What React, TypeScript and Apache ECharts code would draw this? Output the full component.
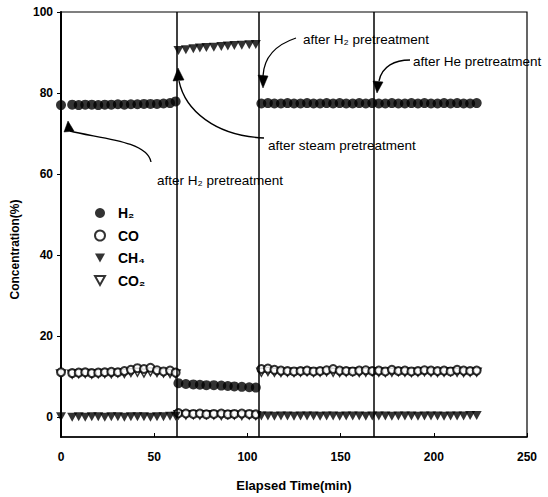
import React, { useEffect, useRef } from "react";
import * as echarts from "echarts";

// Elapsed time (min) of each measurement
const times = [
  0, 6, 9.5, 13, 16.5, 20, 23.5, 27, 30.5, 34, 37.5, 41, 44.5, 48, 51.5, 55, 58.5, 61.5,
  63, 67, 71, 74.5, 78, 82, 86, 89.5, 93, 97, 101, 104.5,
  107.5, 111, 114.5, 118, 121.5, 125, 128.5, 132, 135.5, 139, 142.5, 146, 149.5, 153, 156.5, 160, 163.5,
  167, 170.5, 174, 177.5, 181, 184.5, 188, 191.5, 195, 198.5, 202, 205.5, 209, 212.5, 216, 219.5, 223,
];

const h2 = [
  77.0, 77.1, 77.0, 77.1, 77.1, 77.0, 77.1, 77.1, 77.2, 77.1, 77.2, 77.2, 77.3, 77.3, 77.3, 77.4, 77.5, 77.9,
  8.3, 8.1, 8.0, 7.9, 7.8, 7.8, 7.7, 7.6, 7.5, 7.4, 7.3, 7.2,
  77.4, 77.5, 77.4, 77.4, 77.5, 77.4, 77.4, 77.5, 77.4, 77.4, 77.5, 77.4, 77.5, 77.4, 77.4, 77.5, 77.4,
  77.5, 77.4, 77.4, 77.5, 77.4, 77.4, 77.5, 77.4, 77.5, 77.4, 77.4, 77.5, 77.4, 77.5, 77.4, 77.4, 77.5,
];

const co = [
  11.0, 10.8, 10.9, 11.0, 10.8, 10.9, 11.0, 11.1, 11.0, 11.3, 11.6, 12.0, 11.8, 12.1, 11.5, 11.2, 11.4, 10.9,
  0.9, 0.8, 0.7, 0.8, 0.6, 0.7, 0.8, 0.6, 0.7, 0.8, 0.7, 0.6,
  11.8, 11.9, 11.6, 11.4, 11.3, 11.2, 11.3, 11.4, 11.2, 11.3, 11.5, 11.8, 11.4, 11.3, 11.2, 11.4, 11.5,
  11.3, 11.4, 11.2, 11.6, 11.3, 11.4, 11.2, 11.3, 11.5, 11.4, 11.3, 11.4, 11.2, 11.6, 11.4, 11.3, 11.4,
];

const ch4 = [
  0.0, -0.1, 0.0, -0.1, 0.0, 0.0, -0.1, 0.0, 0.0, -0.1, 0.0, 0.0, 0.0, -0.1, 0.0, 0.0, 0.1, 0.1,
  90.5, 90.7, 90.9, 91.1, 91.2, 91.3, 91.5, 91.6, 91.7, 91.8, 91.9, 92.0,
  0.2, 0.2, 0.1, 0.2, 0.2, 0.1, 0.2, 0.2, 0.2, 0.1, 0.2, 0.2, 0.1, 0.2, 0.2, 0.2, 0.1,
  0.2, 0.2, 0.2, 0.1, 0.2, 0.2, 0.2, 0.1, 0.2, 0.2, 0.2, 0.1, 0.2, 0.2, 0.2, 0.3, 0.3,
];

const co2 = [
  10.6, 10.5, 10.6, 10.7, 10.5, 10.6, 10.7, 10.6, 10.8, 10.7, 10.9, 11.0, 10.8, 11.1, 10.9, 10.8, 10.7, 10.6,
  0.5, 0.4, 0.5, 0.4, 0.5, 0.4, 0.3, 0.5, 0.4, 0.3, 0.4, 0.3,
  11.0, 11.2, 11.0, 10.9, 11.0, 10.9, 11.0, 11.1, 10.9, 11.0, 11.1, 11.0, 10.9, 11.0, 11.1, 10.9, 11.0,
  11.1, 11.0, 10.9, 11.0, 11.1, 11.0, 10.9, 11.0, 11.1, 11.0, 10.9, 11.0, 11.1, 11.0, 10.9, 11.0, 11.0,
];

// Times at which the gas pretreatment was switched
const pretreatmentTimes = [62, 106, 168];

const yTicks = [0, 20, 40, 60, 80, 100];

const FONT = "'Liberation Sans', Arial, sans-serif";
const TRI_DOWN = "path://M0,0L10,0L5,9Z";

const pairs = (vals: number[]) => times.map((t, i) => [t, vals[i]]);

export default function App() {
  const ref = useRef<HTMLDivElement>(null);

  useEffect(() => {
    if (!ref.current) return;
    const chart = echarts.init(ref.current, null, { renderer: "svg" });

    const annText = (x: number, y: number, text: string) => ({
      type: "text",
      x,
      y,
      style: { text, fill: "#000", font: `13.5px ${FONT}`, verticalAlign: "middle", align: "left" },
      z: 100,
    });
    const curve = (p: number[]) => ({
      type: "bezierCurve",
      shape: { x1: p[0], y1: p[1], cpx1: p[2], cpy1: p[3], cpx2: p[4], cpy2: p[5], x2: p[6], y2: p[7] },
      style: { stroke: "#000", lineWidth: 1.3, fill: null },
      z: 100,
    });
    const head = (pts: number[][]) => ({
      type: "polygon",
      shape: { points: pts },
      style: { fill: "#000", stroke: "#000", lineWidth: 0.5 },
      z: 100,
    });

    chart.setOption({
      animation: false,
      backgroundColor: "#fff",
      grid: {
        left: 61,
        right: 21,
        top: 12,
        bottom: 59,
        show: true,
        borderColor: "#000",
        borderWidth: 1.2,
      },
      legend: {
        orient: "vertical",
        left: 89,
        top: 201,
        itemWidth: 10,
        itemHeight: 10,
        itemGap: 8.5,
        data: ["H₂", "CO", "CH₄", "CO₂"],
        textStyle: {
          color: "#000",
          fontFamily: FONT,
          fontWeight: "bold",
          fontSize: 14,
          lineHeight: 12,
          padding: [0, 0, 0, 8],
        },
      },
      xAxis: {
        type: "value",
        min: 0,
        max: 250,
        interval: 50,
        name: "Elapsed Time(min)",
        nameLocation: "middle",
        nameGap: 42,
        nameTextStyle: { color: "#000", fontFamily: FONT, fontWeight: "bold", fontSize: 13 },
        axisLine: { onZero: false, lineStyle: { color: "#000", width: 1.5 } },
        axisTick: { inside: true, length: 4, lineStyle: { color: "#000" } },
        axisLabel: { color: "#000", fontFamily: FONT, fontWeight: "bold", fontSize: 12, margin: 14 },
        splitLine: { show: false },
      },
      yAxis: {
        type: "value",
        min: -5,
        max: 100,
        name: "Concentration(%)",
        nameLocation: "middle",
        nameGap: 40,
        nameTextStyle: {
          color: "#000",
          fontFamily: FONT,
          fontWeight: "bold",
          fontSize: 12,
          padding: [0, 50, 0, 0],
        },
        axisLine: { onZero: false, lineStyle: { color: "#000", width: 2 } },
        axisTick: { customValues: yTicks, length: 4, lineStyle: { color: "#000" } },
        axisLabel: {
          customValues: yTicks,
          color: "#000",
          fontFamily: FONT,
          fontWeight: "bold",
          fontSize: 12,
          margin: 8,
        },
        splitLine: { show: false },
      },
      series: [
        {
          name: "CO₂",
          type: "scatter",
          symbol: TRI_DOWN,
          symbolSize: [9, 8],
          itemStyle: { color: "#fff", borderColor: "#000", borderWidth: 1.4 },
          data: pairs(co2),
          z: 2,
        },
        {
          name: "CO",
          type: "scatter",
          symbol: "emptyCircle",
          symbolSize: 8,
          itemStyle: { color: "#000", borderColor: "#000", borderWidth: 1.5 },
          data: pairs(co),
          z: 3,
        },
        {
          name: "CH₄",
          type: "scatter",
          symbol: TRI_DOWN,
          symbolSize: [10, 9],
          itemStyle: { color: "#000" },
          data: pairs(ch4),
          z: 4,
        },
        {
          name: "H₂",
          type: "scatter",
          symbol: "circle",
          symbolSize: 10,
          itemStyle: { color: "#000" },
          data: pairs(h2),
          z: 5,
          markLine: {
            silent: true,
            symbol: ["none", "none"],
            label: { show: false },
            lineStyle: { color: "#000", type: "solid", width: 1.5 },
            data: pretreatmentTimes.map((t) => ({ xAxis: t })),
          },
        },
      ],
      graphic: [
        annText(157, 180, "after H₂ pretreatment"),
        curve([151, 162, 147, 140, 95, 138, 70, 131]),
        head([[68, 121], [64, 132], [74, 131]]),

        annText(268, 145, "after steam pretreatment"),
        curve([264, 138, 215, 136, 185, 110, 179, 81]),
        head([[178, 68], [173, 81], [184, 80]]),

        annText(303, 39, "after H₂ pretreatment"),
        curve([296, 38, 278, 44, 264, 56, 263, 76]),
        head([[263, 88], [258, 75], [268, 76]]),

        annText(413, 61, "after He pretreatment"),
        curve([410, 60, 395, 60, 382, 66, 379, 81]),
        head([[377, 93], [373, 81], [383, 82]]),
      ],
    });

    return () => chart.dispose();
  }, []);

  return (
    <div
      ref={ref}
      style={{ position: "absolute", left: 0, top: 0, width: 548, height: 497 }}
    />
  );
}
